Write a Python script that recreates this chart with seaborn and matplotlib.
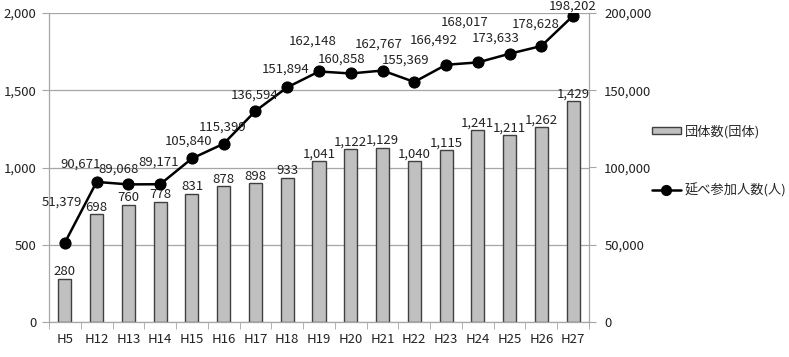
import matplotlib
matplotlib.use("Agg")
import matplotlib.pyplot as plt
import seaborn as sns
import numpy as np
from matplotlib.patches import Patch
from matplotlib.lines import Line2D
from matplotlib.ticker import FuncFormatter, FixedLocator

years = ["H5", "H12", "H13", "H14", "H15", "H16", "H17", "H18", "H19", "H20",
         "H21", "H22", "H23", "H24", "H25", "H26", "H27"]
groups = [280, 698, 760, 778, 831, 878, 898, 933, 1041, 1122, 1129, 1040,
          1115, 1241, 1211, 1262, 1429]
people = [51379, 90671, 89068, 89171, 105840, 115399, 136594, 151894, 162148,
          160858, 162767, 155369, 166492, 168017, 173633, 178628, 198202]
bar_label = "団体数(団体)"
line_label = "延べ参加人数(人)"

# label offsets (pixels) for line labels
line_off = [(-3, 40), (-16, 18), (-10, 15), (-2, 22), (-3, 17), (-1, 17), (-1, 16),
            (-2, 18), (-6, 30), (-9, 14), (-4, 26), (-9, 22), (-12, 25), (-13, 40),
            (-14, 16), (-6, 22), (0, 10)]

sns.set_style("white")
plt.rcParams['font.family'] = ['Noto Sans CJK JP', 'DejaVu Sans']

fig = plt.figure(figsize=(7.89, 3.57), dpi=100)
ax = fig.add_axes([49/789, 35/357, 540/789, 309/357])
ax2 = ax.twinx()

sns.barplot(x=years, y=groups, ax=ax, color="#c0c0c0", edgecolor="#404040",
            linewidth=1.0, width=0.41, saturation=1)
sns.lineplot(x=np.arange(len(years)), y=people, ax=ax2, color="black",
             marker="o", markersize=8, markeredgecolor="black", linewidth=1.8, sort=False)

ax.set_xlim(-0.5, len(years) - 0.5)
ax.set_ylim(0, 2000)
ax2.set_ylim(0, 200000)
ax.set_yticks([0, 500, 1000, 1500, 2000])
ax2.set_yticks([0, 50000, 100000, 150000, 200000])
fmt = FuncFormatter(lambda v, p: f"{int(v):,}")
ax.yaxis.set_major_formatter(fmt)
ax2.yaxis.set_major_formatter(fmt)
ax.grid(axis="y", color="#a6a6a6", linewidth=0.9)
ax.set_axisbelow(True)

for a in (ax, ax2):
    a.spines["top"].set_visible(False)
    for s in ("left", "right", "bottom"):
        a.spines[s].set_color("#a6a6a6")
        a.spines[s].set_linewidth(0.9)
ax2.spines["left"].set_visible(False)
ax.spines["right"].set_visible(False)
ax2.spines["bottom"].set_visible(False)

ax.tick_params(axis="y", length=5, color="#a6a6a6", labelsize=9.5, labelcolor="#222222", pad=4, direction="out", left=True)
ax2.tick_params(axis="y", length=5, color="#a6a6a6", labelsize=9.5, labelcolor="#222222", pad=6, direction="out", right=True)
ax.tick_params(axis="x", length=0, labelsize=9.5, labelcolor="#222222", pad=8)
ax.xaxis.set_minor_locator(FixedLocator(np.arange(-0.5, len(years), 1.0)))
ax.tick_params(axis="x", which="minor", length=5, color="#a6a6a6", bottom=True, direction="out")
ax.set_xlabel("")
ax.set_ylabel("")
ax2.set_ylabel("")

for i, v in enumerate(groups):
    ax.annotate(f"{v:,}", xy=(i, v), xytext=(0, 5), textcoords="offset points",
                ha="center", va="center", fontsize=9.5, color="#222222")
for i, v in enumerate(people):
    dx, dy = line_off[i]
    ax2.annotate(f"{v:,}", xy=(i, v), xytext=(dx * 0.72, dy * 0.72), textcoords="offset points",
                 ha="center", va="center", fontsize=9.5, color="#222222")

handles = [Patch(facecolor="#c0c0c0", edgecolor="#404040", linewidth=1.0),
           Line2D([0], [0], color="black", marker="o", markersize=7, linewidth=1.8)]
fig.legend(handles, [bar_label, line_label], loc="center left",
           bbox_to_anchor=(640/789, 1 - 161/357), frameon=False, fontsize=9.5,
           labelspacing=3.4, handlelength=2.2, handleheight=0.5, handletextpad=0.3)

fig.savefig("out.png", dpi=100)
